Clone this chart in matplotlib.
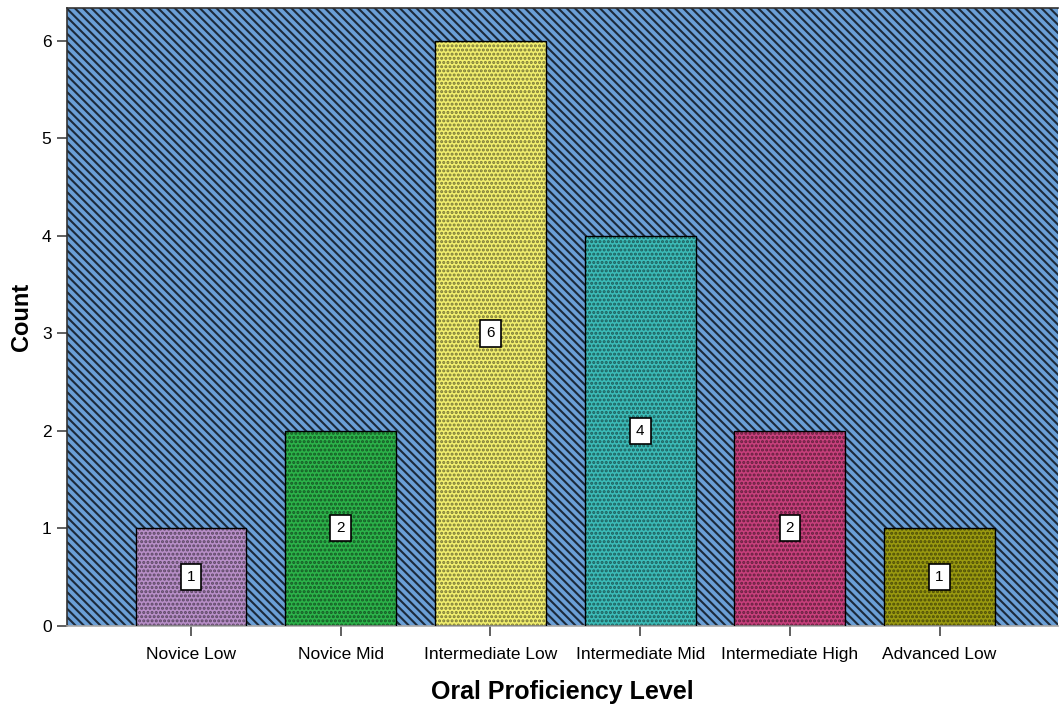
import matplotlib.pyplot as plt
from matplotlib.patches import Rectangle
import numpy as np

levels = ["Novice Low", "Novice Mid", "Intermediate Low", "Intermediate Mid",
          "Intermediate High", "Advanced Low"]
counts = [1, 2, 6, 4, 2, 1]
bar_colors = ["#b88fc8", "#2cb34a", "#f2ef6e", "#3cbcb8", "#c8407c", "#9a9a10"]

plt.rcParams['font.family'] = ['Liberation Sans', 'DejaVu Sans']
plt.rcParams['hatch.linewidth'] = 1.5

fig = plt.figure(figsize=(10.6, 7.08), dpi=100)
ax = fig.add_axes([0.063, 0.116, 0.935, 0.873])

# striped blue background
bg = Rectangle((0, 0), 1, 1, transform=ax.transAxes, facecolor="#6a9fd6",
               edgecolor="#1c2a3a", hatch="\\\\\\\\", linewidth=0, zorder=0)
ax.add_patch(bg)

x = np.arange(len(levels))
ax.bar(x, counts, width=0.74, color=bar_colors, edgecolor=(0, 0, 0, 0.5),
       hatch="....", linewidth=0, zorder=2)
ax.bar(x, counts, width=0.74, color="none", edgecolor="black", linewidth=1.0,
       zorder=3)

for xi, c in zip(x, counts):
    ax.text(xi, c / 2, str(c), ha="center", va="center", fontsize=11, zorder=4,
            bbox=dict(boxstyle="square,pad=0.4", facecolor="white",
                      edgecolor="black", linewidth=1.2))

ax.set_xlim(-0.83, 5.79)
ax.set_ylim(0, 6.34)
ax.set_xticks(x)
ax.set_xticklabels(levels, fontsize=12.5)
ax.set_yticks(range(7))
ax.tick_params(axis="y", labelsize=12.5, length=7, width=1.2, color="#444444", pad=4)
ax.tick_params(axis="x", length=7, width=1.2, color="#444444", pad=8)

for side in ["top", "left"]:
    ax.spines[side].set_color("#333333")
    ax.spines[side].set_linewidth(1.2)
ax.spines["right"].set_visible(False)
ax.spines["bottom"].set_color("#aaaaaa")
ax.spines["bottom"].set_linewidth(1.2)

ax.set_ylabel("Count", fontsize=17, fontweight="bold", labelpad=6)
ax.set_xlabel("Oral Proficiency Level", fontsize=18, fontweight="bold", labelpad=13)

plt.savefig("out.png", dpi=100)
